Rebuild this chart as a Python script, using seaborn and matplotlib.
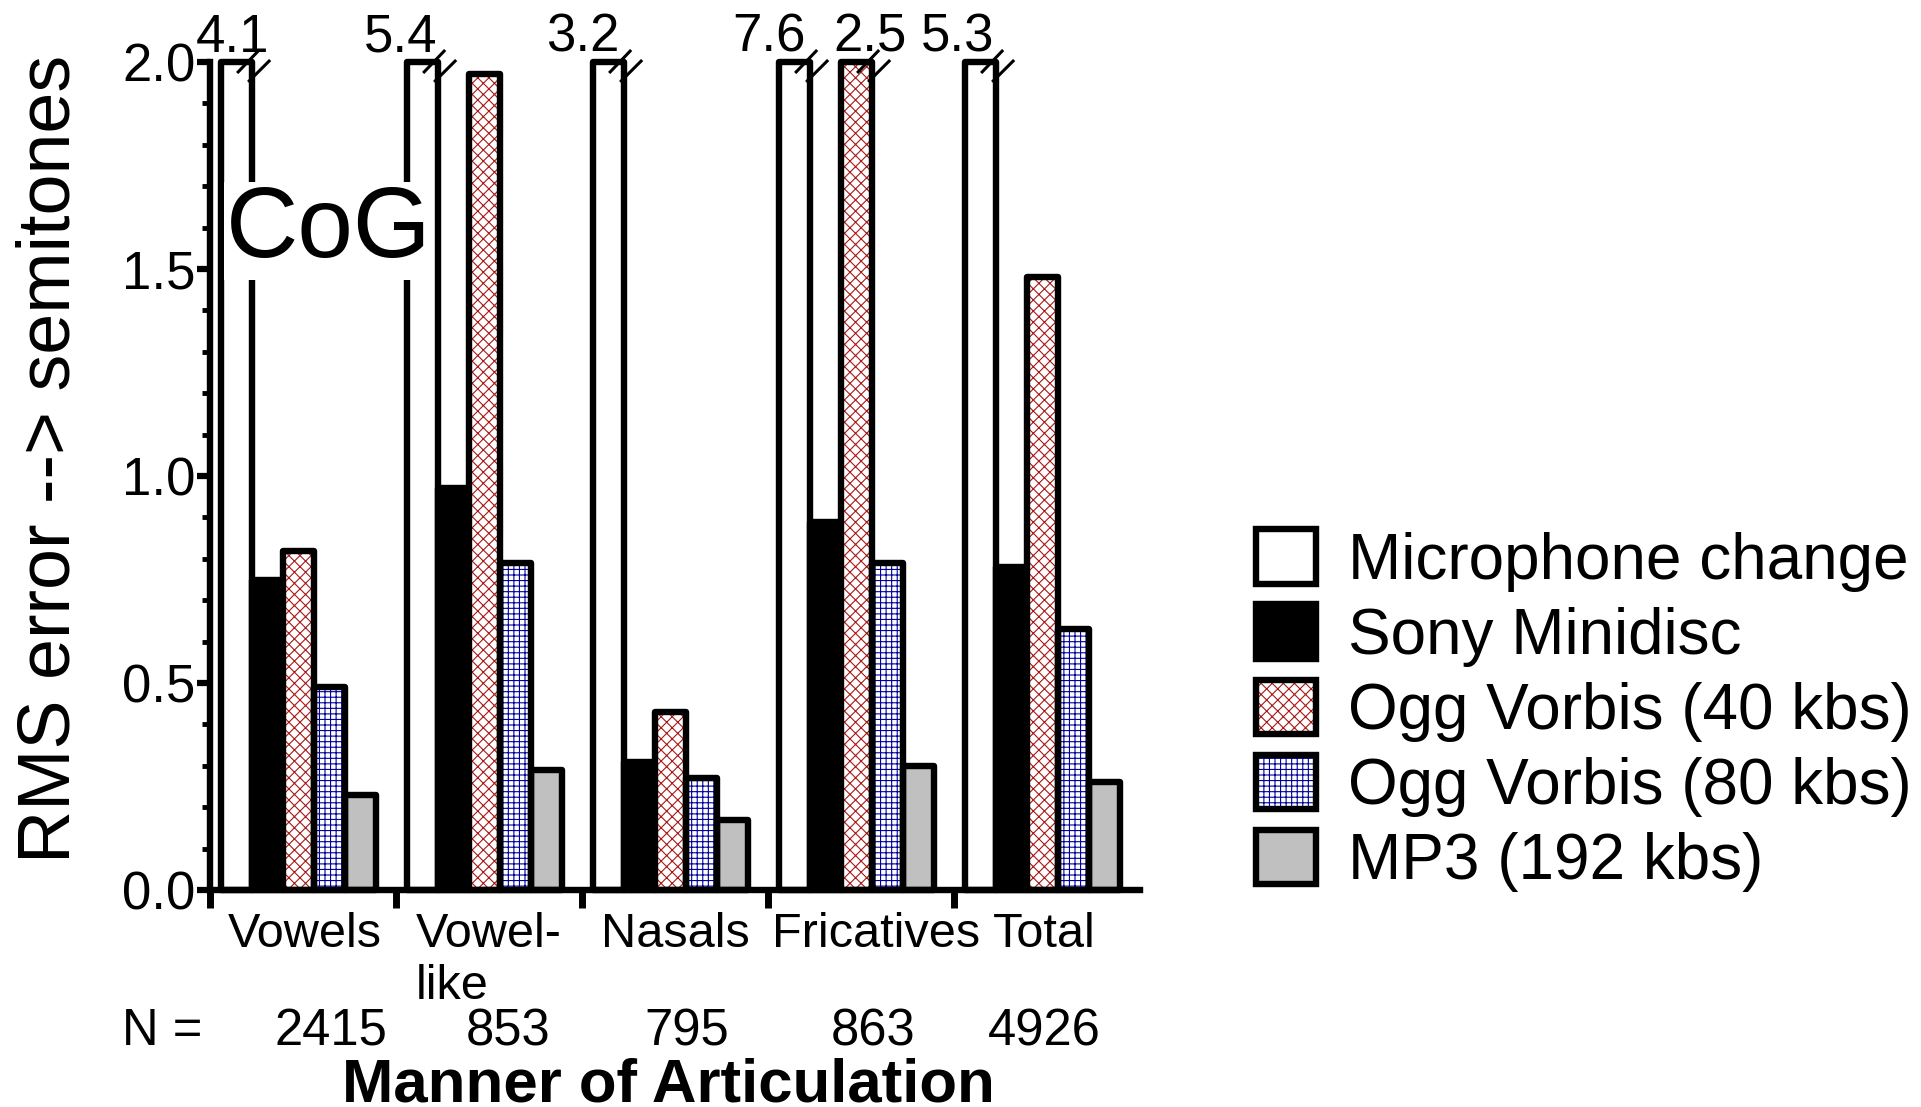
import matplotlib
matplotlib.use("Agg")
import pandas as pd
import matplotlib.pyplot as plt
from matplotlib.patches import Patch, Rectangle
from matplotlib.ticker import MultipleLocator
import seaborn as sns

# data
categories = ["Vowels", "Vowel-\nlike", "Nasals", "Fricatives", "Total"]
n_counts = ["2415", "853", "795", "863", "4926"]
conditions = ["Microphone change", "Sony Minidisc", "Ogg Vorbis (40 kbs)",
              "Ogg Vorbis (80 kbs)", "MP3 (192 kbs)"]

mic_change = [4.1, 5.4, 3.2, 7.6, 5.3]
sony_minidisc = [0.75, 0.97, 0.31, 0.89, 0.78]
ogg_40 = [0.82, 1.97, 0.43, 2.5, 1.48]
ogg_80 = [0.49, 0.79, 0.27, 0.79, 0.63]
mp3_192 = [0.23, 0.29, 0.17, 0.30, 0.26]

Y_MAX = 2.0
EDGE_LW = 4.6

W, H = 1921, 1107
AX_L, AX_R, AX_T, AX_B = 210, 1140, 62, 890

sns.set_theme(style="ticks")
plt.rcParams["font.family"] = ["Liberation Sans", "DejaVu Sans"]
plt.rcParams["hatch.linewidth"] = 0.8
plt.rcParams["axes.linewidth"] = EDGE_LW
for key in ["text.color", "axes.labelcolor", "xtick.color", "ytick.color",
            "xtick.labelcolor", "ytick.labelcolor", "axes.edgecolor"]:
    plt.rcParams[key] = "black"


def build_frame():
    rows = []
    series = [mic_change, sony_minidisc, ogg_40, ogg_80, mp3_192]
    for cond, vals in zip(conditions, series):
        for cat, v in zip(categories, vals):
            rows.append({"manner": cat, "condition": cond,
                         "rms": v, "shown": min(v, Y_MAX)})
    return pd.DataFrame(rows)


face = {"Microphone change": "white", "Sony Minidisc": "black",
        "Ogg Vorbis (40 kbs)": "white", "Ogg Vorbis (80 kbs)": "white",
        "MP3 (192 kbs)": "#c0c0c0"}
hatch_style = {2: ("xxx", "#a81818"), 3: ("+++", "#00009a")}

df = build_frame()
fig = plt.figure(figsize=(W / 100, H / 100), dpi=100)
ax = fig.add_axes([AX_L / W, (H - AX_B) / H, (AX_R - AX_L) / W, (AX_B - AX_T) / H])

sns.barplot(data=df, x="manner", y="shown", hue="condition", order=categories,
            hue_order=conditions, palette=face, saturation=1, width=5 / 6,
            errorbar=None, edgecolor="black", linewidth=EDGE_LW, legend=False,
            ax=ax, zorder=2)

for p in ax.patches:
    p.set_clip_on(False)
    p.set_joinstyle("round")

# hatched bars: coloured hatch, black outline drawn on top
for k, (h, hc) in hatch_style.items():
    for bar in ax.containers[k]:
        bar.set_hatch(h)
        bar.set_edgecolor(hc)
        bar.set_linewidth(0)
        ax.add_patch(Rectangle(bar.get_xy(), bar.get_width(), bar.get_height(),
                               fill=False, edgecolor="black", lw=EDGE_LW,
                               joinstyle="round", zorder=3, clip_on=False))

xpp = len(categories) / (AX_R - AX_L)
ypp = Y_MAX / (AX_B - AX_T)

# axes
bounds = [i - 5 / 12 - 0.06 for i in range(len(categories))]
label_dx = [2, 0, 0, 15, -3]
ax.set_xlim(bounds[0], bounds[0] + len(categories))
ax.set_ylim(0, Y_MAX)
ax.set_xticks(bounds, [""] * len(bounds))
ax.set_xticks([b + 0.5 + d * xpp for b, d in zip(bounds, label_dx)], categories, minor=True)
ax.yaxis.set_major_locator(MultipleLocator(0.5))
ax.yaxis.set_minor_locator(MultipleLocator(0.1))
ax.set_yticklabels([f"{v:.1f}" for v in ax.get_yticks()])
ax.tick_params(axis="x", which="major", length=13, width=5)
ax.tick_params(axis="x", which="minor", length=0, pad=16, labelsize=35)
ax.tick_params(axis="y", which="major", length=9.5, width=4.5, pad=1, labelsize=38)
ax.tick_params(axis="y", which="minor", length=5.5, width=3.5)
for t in ax.get_xticklabels(minor=True):
    t.set_multialignment("left")
ax.set_xlabel("")
ax.set_ylabel("")
sns.despine(ax=ax)


def break_mark(xr):
    for (x0, y0), (x1, y1) in [((-15, 11), (7, -12)), ((-4, 20), (18, -2))]:
        ax.plot([xr + x0 * xpp, xr + x1 * xpp], [Y_MAX - y0 * ypp, Y_MAX - y1 * ypp],
                color="black", lw=2.2, clip_on=False, zorder=4, solid_capstyle="butt")


# break marks and true values for bars that run off the top
mic_label_dx = [-4, -22, -26, -26, -23]
ogg40_label_dx = [0, 0, 0, 13, 0]
for k, vals, dxs in [(0, mic_change, mic_label_dx), (2, ogg_40, ogg40_label_dx)]:
    for bar, v, dx in zip(ax.containers[k], vals, dxs):
        if v <= Y_MAX:
            continue
        xc = bar.get_x() + bar.get_width() / 2
        ax.annotate(f"{v:.1f}", (xc, Y_MAX), xytext=(dx, 10),
                    textcoords="offset pixels", ha="center", va="baseline",
                    fontsize=38, annotation_clip=False)
        break_mark(bar.get_x() + bar.get_width())

ax.text((329 - AX_L) / (AX_R - AX_L), (AX_B - 257) / (AX_B - AX_T), "CoG",
        transform=ax.transAxes, ha="center", va="baseline", fontsize=72,
        zorder=6, bbox=dict(boxstyle="square,pad=0.02", fc="white", ec="none"))

# sample counts under the category labels
n_dx = [28, 19, 12, 12, -3]
n_y = (AX_B - 1045) / (AX_B - AX_T)
fig.text(122 / W, (H - 1045) / H, "N =", ha="left", va="baseline", fontsize=36.5)
for b, n, dx in zip(bounds, n_counts, n_dx):
    ax.text(b + 0.5 + dx * xpp, n_y, n, transform=ax.get_xaxis_transform(),
            ha="center", va="baseline", fontsize=36.5)

fig.text(668 / W, (H - 1102) / H, "Manner of Articulation", ha="center",
         va="baseline", fontsize=44.5, fontweight="bold")
fig.text(50 / W, (H - 459) / H, "RMS error --> semitones", rotation=90,
         ha="center", va="center", fontsize=53)

# legend
handles = []
for k, cond in enumerate(conditions):
    if k in hatch_style:
        h, hc = hatch_style[k]
        under = Patch(facecolor="white", edgecolor=hc, linewidth=0, hatch=h)
        over = Patch(facecolor="none", edgecolor="black", linewidth=EDGE_LW)
        handles.append((under, over))
    else:
        handles.append(Patch(facecolor=face[cond], edgecolor="black", linewidth=EDGE_LW))
fig.legend(handles, conditions, loc="center left", bbox_to_anchor=(1256 / W, 0.358),
           frameon=False, fontsize=46, handlelength=0.94, handleheight=0.94,
           handletextpad=0.5, labelspacing=0.2, borderpad=0, borderaxespad=0)

fig.savefig("out.png", dpi=100)
